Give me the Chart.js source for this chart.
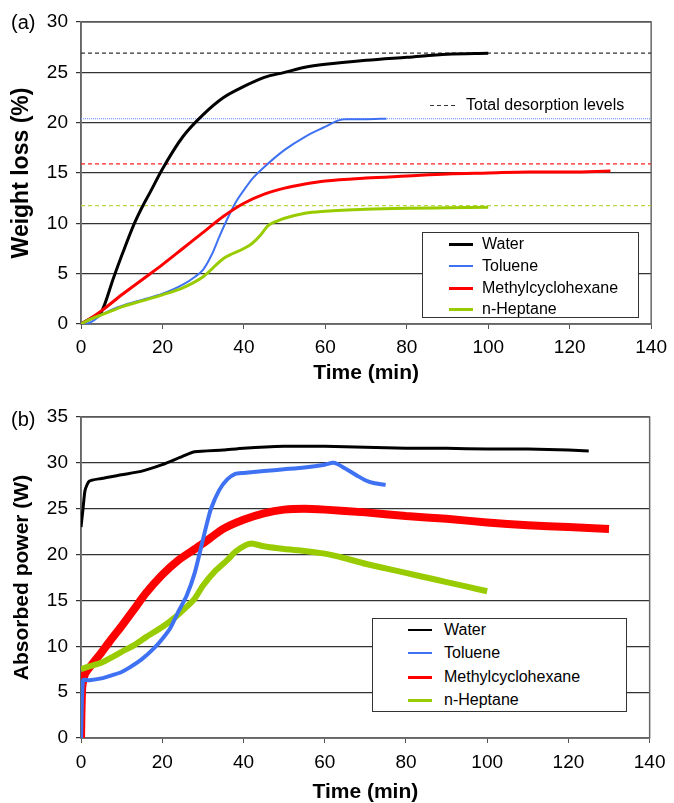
<!DOCTYPE html>
<html>
<head>
<meta charset="utf-8">
<script src="https://cdn.jsdelivr.net/npm/chart.js@4.4.0/dist/chart.umd.min.js"></script>
<style>
  html, body { margin: 0; padding: 0; background: #fff; }
  #page { position: relative; width: 674px; height: 803px; font-family: "Liberation Sans", Arial, sans-serif; color: #000; }
  canvas { position: absolute; left: 0; }
  #chartA { top: 0; }
  #chartB { top: 390px; }
  .panel { position: absolute; font-size: 20px; line-height: 22px; }
  .legend { position: absolute; background: #fff; border: 1px solid #333; box-sizing: border-box; font-size: 16px; }
  .legend .row { position: absolute; height: 20px; line-height: 20px; white-space: nowrap; }
  .legend .swatch { position: absolute; width: 24px; }
  #note { position: absolute; left: 430px; top: 95px; font-size: 16px; line-height: 20px; white-space: nowrap; }
  #note .dash { position: absolute; left: 0; top: 10px; width: 28px; height: 1px;
    background: repeating-linear-gradient(to right, #333 0 4px, transparent 4px 7px); }
  #note span { position: absolute; left: 36px; top: 0; }
</style>
</head>
<body>
<div id="page">
  <canvas id="chartA" width="674" height="395"></canvas>
  <canvas id="chartB" width="674" height="413"></canvas>
  <div class="panel" style="left:11px; top:11px;">(a)</div>
  <div class="panel" style="left:11px; top:408px;">(b)</div>
  <div id="note"><div class="dash"></div><span>Total desorption levels</span></div>
  <div id="legendA" class="legend" style="left:422px; top:232px; width:217px; height:86px;"></div>
  <div id="legendB" class="legend" style="left:372px; top:618px; width:255px; height:94px;"></div>
</div>
<script>
const seriesNames = ['Water', 'Toluene', 'Methylcyclohexane', 'n-Heptane'];

// (a) weight loss (%) vs time (min)
const waterTimeA = [0, 2.5, 5, 8, 10, 13, 15, 17, 20, 25, 30, 35, 40, 45, 50, 55, 60, 70, 80, 90, 100];
const waterLoss = [0, 0.6, 1.2, 4.6, 6.8, 9.9, 11.6, 13.1, 15.4, 18.6, 20.8, 22.5, 23.6, 24.5, 25.0, 25.5, 25.8, 26.2, 26.5, 26.8, 26.9];
const tolueneTimeA = [0, 2, 5, 8, 10, 15, 20, 25, 28, 30, 32, 34, 36, 38, 40, 42, 45, 50, 55, 60, 63, 65, 70, 75];
const tolueneLoss = [0, 0.1, 0.9, 1.5, 1.8, 2.4, 3.0, 3.9, 4.7, 5.4, 6.8, 8.7, 10.5, 12.1, 13.3, 14.4, 15.6, 17.3, 18.6, 19.6, 20.2, 20.35, 20.35, 20.4];
const mchTimeA = [0, 2.5, 5, 10, 15, 20, 25, 30, 35, 40, 45, 50, 55, 60, 70, 80, 90, 100, 110, 120, 130];
const mchLoss = [0, 0.6, 1.3, 2.9, 4.4, 5.9, 7.5, 9.1, 10.7, 12.0, 12.9, 13.5, 13.9, 14.2, 14.5, 14.7, 14.9, 15.0, 15.1, 15.1, 15.2];
const heptaneTimeA = [0, 2.5, 5, 7.5, 10, 15, 20, 25, 30, 35, 40, 42, 44, 46, 48, 50, 55, 60, 70, 80, 90, 100];
const heptaneLoss = [0, 0.5, 0.9, 1.3, 1.7, 2.3, 2.9, 3.6, 4.7, 6.5, 7.5, 8.0, 8.8, 9.8, 10.2, 10.5, 11.0, 11.2, 11.4, 11.5, 11.55, 11.6];
const totalLevels = [26.9, 20.4, 15.9, 11.75];

// (b) absorbed power (W) vs time (min)
const waterTimeB = [0, 0.5, 1, 2, 5, 10, 15, 20, 25, 28, 35, 40, 50, 60, 70, 80, 90, 100, 110, 120, 125];
const waterPower = [23.0, 25.0, 27.0, 28.0, 28.3, 28.7, 29.1, 29.8, 30.7, 31.2, 31.4, 31.6, 31.8, 31.8, 31.7, 31.6, 31.6, 31.5, 31.5, 31.4, 31.3];
const tolueneTimeB = [0, 0.5, 2, 5, 8, 10, 12, 15, 18, 20, 22, 24, 26, 28, 30, 31, 32, 34, 36, 38, 40, 45, 50, 55, 60, 62, 63, 65, 68, 70, 72, 75];
const toluenePower = [-0.3, 6.3, 6.3, 6.5, 6.9, 7.2, 7.7, 8.6, 9.8, 10.8, 12.0, 13.8, 15.5, 18.0, 21.6, 23.4, 25.0, 27.0, 28.2, 28.8, 28.9, 29.1, 29.3, 29.5, 29.8, 30.0, 29.9, 29.4, 28.6, 28.1, 27.8, 27.6];
const mchTimeB = [0, 0.3, 1, 3, 5, 7, 10, 13, 16, 20, 24, 28, 30, 35, 40, 45, 50, 55, 60, 70, 80, 90, 100, 110, 120, 130];
const mchPower = [0, 5.5, 7.0, 8.2, 9.3, 10.5, 12.2, 14.0, 15.8, 17.8, 19.4, 20.6, 21.2, 22.8, 23.8, 24.5, 24.9, 25.0, 24.9, 24.6, 24.2, 23.9, 23.5, 23.2, 23.0, 22.8];
const heptaneTimeB = [0, 2, 5, 8, 10, 13, 16, 20, 23, 26, 28, 30, 33, 36, 38, 40, 42, 45, 50, 55, 60, 65, 70, 75, 80, 85, 90, 95, 100];
const heptanePower = [7.5, 7.8, 8.2, 8.9, 9.4, 10.1, 11.0, 12.1, 13.1, 14.3, 15.2, 16.6, 18.2, 19.4, 20.3, 20.9, 21.2, 20.9, 20.6, 20.4, 20.1, 19.6, 19.0, 18.5, 18.0, 17.5, 17.0, 16.5, 16.0];

const fontFamily = '"Liberation Sans", Arial, sans-serif';
const seriesColors = ['#000000', '#3F72F2', '#FF0000', '#99CC00'];
const levelColors = ['#333333', '#7FA0FF', '#FF2020', '#B5D840'];
const levelDash = [[4, 3], [1, 1], [4, 3], [4, 3]];

function points(xs, ys) {
    return xs.map((x, i) => ({ x: x, y: ys[i] }));
}

const framePlugin = {
    id: 'frame',
    beforeDatasetsDraw(chart) {
        const { ctx, chartArea: a } = chart;
        ctx.save();
        ctx.strokeStyle = '#666';
        ctx.lineWidth = 1.5;
        ctx.strokeRect(a.left, a.top, a.right - a.left, a.bottom - a.top);
        ctx.restore();
    }
};

function makeOptions(opt) {
    return {
        responsive: false,
        animation: false,
        layout: { padding: { left: 0, right: opt.padRight, top: opt.padTop, bottom: 0 } },
        plugins: { legend: { display: false }, tooltip: { enabled: false } },
        elements: { point: { radius: 0 } },
        scales: {
            x: {
                type: 'linear', min: 0, max: 140,
                ticks: { stepSize: 20, color: '#000', font: { size: 19, family: fontFamily }, padding: opt.xTickPad },
                grid: { drawOnChartArea: false, tickLength: 5, color: '#555' },
                border: { color: '#666', width: 1.5 },
                title: { display: true, text: 'Time (min)', color: '#000',
                    font: { size: 21, weight: 'bold', family: fontFamily, lineHeight: 1 },
                    padding: { top: 0, bottom: opt.xTitlePad } },
                afterFit(s) { s.height = opt.xHeight; }
            },
            y: {
                min: 0, max: opt.yMax,
                ticks: { stepSize: 5, color: '#000', font: { size: 19, family: fontFamily }, padding: 8 },
                grid: { color: '#333', lineWidth: 1.2, tickLength: 5 },
                border: { color: '#666', width: 1.5 },
                title: { display: true, text: opt.yTitle, color: '#000',
                    font: { size: opt.yTitleSize, weight: 'bold', family: fontFamily, lineHeight: 1 },
                    padding: { top: 22 - opt.yTitleSize / 2, bottom: 0 } },
                afterFit(s) { s.width = 81; }
            }
        }
    };
}

function buildLegend(el, widths, rowTops, swatchLeft, textLeft) {
    seriesNames.forEach((name, i) => {
        const row = document.createElement('div');
        row.className = 'row';
        row.style.top = rowTops[i] + 'px';
        row.style.left = '0px';
        const sw = document.createElement('div');
        sw.className = 'swatch';
        sw.style.left = swatchLeft + 'px';
        sw.style.top = (10 - widths[i] / 2) + 'px';
        sw.style.height = widths[i] + 'px';
        sw.style.background = seriesColors[i];
        const label = document.createElement('span');
        label.style.position = 'absolute';
        label.style.left = textLeft + 'px';
        label.textContent = name;
        row.appendChild(sw);
        row.appendChild(label);
        el.appendChild(row);
    });
}

// chart (a)
const curvesA = [
    points(waterTimeA, waterLoss),
    points(tolueneTimeA, tolueneLoss),
    points(mchTimeA, mchLoss),
    points(heptaneTimeA, heptaneLoss)
];
const widthsA = [3, 2, 3, 3];
const datasetsA = [];
curvesA.forEach((pts, i) => {
    datasetsA.push({
        label: seriesNames[i],
        data: pts,
        borderColor: seriesColors[i],
        borderWidth: widthsA[i],
        cubicInterpolationMode: 'monotone',
        fill: false,
        order: 4 - i
    });
});
totalLevels.forEach((lvl, i) => {
    datasetsA.push({
        label: 'Total ' + seriesNames[i],
        data: [{ x: 0, y: lvl }, { x: 140, y: lvl }],
        borderColor: levelColors[i],
        borderWidth: 1.3,
        borderDash: levelDash[i],
        fill: false,
        order: 10
    });
});

new Chart(document.getElementById('chartA'), {
    type: 'line',
    data: { datasets: datasetsA },
    options: makeOptions({ padRight: 19, padTop: 22, xTickPad: 7, xTitlePad: 11.5, xHeight: 71, yMax: 30,
        yTitle: 'Weight loss (%)', yTitleSize: 23 }),
    plugins: [framePlugin]
});

// chart (b)
const curvesB = [
    points(waterTimeB, waterPower),
    points(tolueneTimeB, toluenePower),
    points(mchTimeB, mchPower),
    points(heptaneTimeB, heptanePower)
];
const widthsB = [3, 4, 8, 6];
const orderB = [4, 1, 3, 2];
const datasetsB = curvesB.map((pts, i) => ({
    label: seriesNames[i],
    data: pts,
    borderColor: seriesColors[i],
    borderWidth: widthsB[i],
    tension: 0.2,
    fill: false,
    order: orderB[i]
}));

new Chart(document.getElementById('chartB'), {
    type: 'line',
    data: { datasets: datasetsB },
    options: makeOptions({ padRight: 16, padTop: 27, xTickPad: 8.5, xTitlePad: 0, xHeight: 65, yMax: 35,
        yTitle: 'Absorbed power (W)', yTitleSize: 21 }),
    plugins: [framePlugin]
});

buildLegend(document.getElementById('legendA'), [3, 2, 3, 3], [1, 23, 45, 66], 26, 59);
buildLegend(document.getElementById('legendB'), [1.5, 2, 3, 3], [1, 24, 48, 71], 35, 71);
</script>
</body>
</html>
